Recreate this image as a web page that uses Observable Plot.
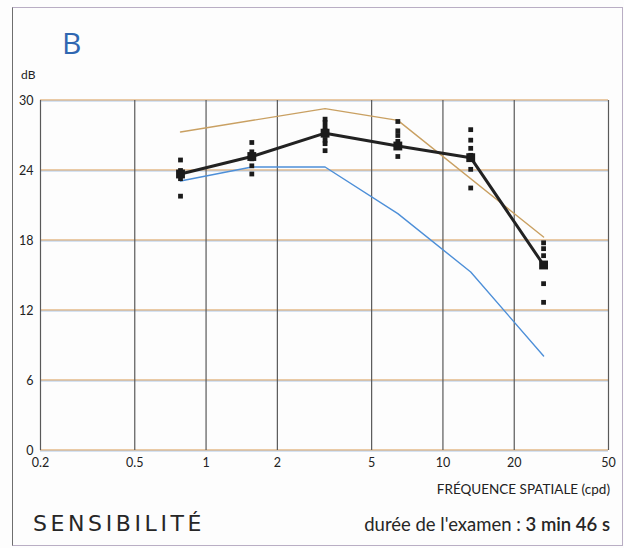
<!DOCTYPE html>
<html>
<head>
<meta charset="utf-8">
<script src="https://cdn.jsdelivr.net/npm/d3@7"></script>
<script src="https://cdn.jsdelivr.net/npm/@observablehq/plot@0.6"></script>
<style>
  html, body { margin: 0; padding: 0; background: #fdfdfd; }
  body { width: 624px; height: 548px; overflow: hidden; font-family: Lato, "Open Sans", sans-serif; }
  #wrap { position: relative; width: 624px; height: 548px; }
  #box { position: absolute; left: 12px; top: 7px; width: 611px; height: 539px;
         border: 1px solid #b9aec4; border-left-color: #6e6e6e; box-sizing: border-box; }
  .lbl { position: absolute; white-space: nowrap; color: #222; }
  #panel { left: 62px; top: 22px; font-size: 30px; color: #2f67b1; font-family: "Open Sans", Lato, sans-serif; }
  #unit { left: 21px; top: 67px; font-size: 12px; }
  #xlabel { right: 14px; top: 481px; font-size: 13.5px; }
  #title { left: 33px; top: 511px; font-size: 22px; letter-spacing: 3.6px; color: #262626;
           font-family: "DejaVu Sans", Lato, sans-serif; }
  #duree { right: 14px; top: 513px; font-size: 18.5px; color: #262626; }
  #duree b { font-weight: 600; }
  svg { position: absolute; left: 0; top: 0; }
</style>
</head>
<body>
<div id="wrap">
  <div id="box"></div>
  <div class="lbl" id="panel">B</div>
  <div class="lbl" id="unit">dB</div>
  <div class="lbl" id="xlabel">FRÉQUENCE SPATIALE (cpd)</div>
  <div class="lbl" id="title">SENSIBILITÉ</div>
  <div class="lbl" id="duree">durée de l'examen : <b>3 min 46 s</b></div>
</div>
<script>
// Spatial frequencies tested (cycles per degree)
const freqs = [0.78, 1.56, 3.18, 6.45, 13.1, 26.6];
// Mean contrast sensitivity (dB) at each frequency
const meanDb = [23.7, 25.2, 27.2, 26.1, 25.1, 15.9];
// Lower normal limit (blue)
const lowerDb = [23.1, 24.3, 24.3, 20.3, 15.3, 8.1];
// Upper normal limit (tan), drawn through its own break points
const upperFreqs = [0.78, 3.18, 6.45, 26.6];
const upperDb = [27.3, 29.3, 28.3, 18.3];
// Individual measurements at each frequency
const trials = [
  [24.9, 24.0, 23.6, 23.3, 21.8],
  [26.4, 25.6, 25.0, 24.4, 23.7],
  [28.4, 28.1, 27.7, 27.4, 27.0, 26.6, 26.3, 25.7],
  [28.2, 27.4, 27.0, 26.5, 26.0, 25.2],
  [27.5, 26.6, 25.9, 25.3, 24.1, 22.5],
  [17.8, 17.3, 16.7, 15.9, 14.3, 12.7]
];
// Axis ticks
const xTicks = [0.2, 0.5, 1, 2, 5, 10, 20, 50];
const yTicks = [0, 6, 12, 18, 24, 30];

const meanRows = freqs.map((f, i) => ({f, db: meanDb[i]}));
const lowerRows = freqs.map((f, i) => ({f, db: lowerDb[i]}));
const upperRows = upperFreqs.map((f, i) => ({f, db: upperDb[i]}));
const trialRows = trials.flatMap((vals, i) => vals.map(db => ({f: freqs[i], db})));

const chart = Plot.plot({
  width: 624,
  height: 548,
  marginLeft: 40,
  marginRight: 16,
  marginTop: 100,
  marginBottom: 98,
  style: {background: "transparent", fontFamily: "Lato, 'Open Sans', sans-serif", fontSize: "12.5px", color: "#222"},
  x: {type: "log", domain: [0.2, 50], axis: null},
  y: {domain: [0, 30], ticks: yTicks, tickSize: 0, tickPadding: 7, label: null},
  marks: [
    // horizontal grid: printed as an orange line with a faint blue one just under it
    Plot.ruleY(yTicks, {stroke: "#d8984e", strokeWidth: 1.1, dy: -0.5}),
    Plot.ruleY(yTicks, {stroke: "#6b9ad6", strokeWidth: 1, dy: 0.6, strokeOpacity: 0.45}),
    // vertical grid
    Plot.ruleX(xTicks, {stroke: "#595959", strokeWidth: 1.2}),
    // x tick labels under the frame
    Plot.text(xTicks, {x: d => d, frameAnchor: "bottom", dy: 16, text: d => String(d), fill: "#222", fontSize: 12.5}),
    // normal limits
    Plot.line(upperRows, {x: "f", y: "db", stroke: "#c9a062", strokeWidth: 1.4}),
    Plot.line(lowerRows, {x: "f", y: "db", stroke: "#4d8fd8", strokeWidth: 1.4}),
    // individual measurements
    Plot.dot(trialRows, {x: "f", y: "db", symbol: "square", r: 2.7, fill: "#1b1b1b", stroke: "none"}),
    // mean curve
    Plot.line(meanRows, {x: "f", y: "db", stroke: "#222", strokeWidth: 3}),
    Plot.dot(meanRows, {x: "f", y: "db", symbol: "square", r: 5, fill: "#1b1b1b", stroke: "none"})
  ]
});
document.getElementById("wrap").appendChild(chart);
</script>
</body>
</html>
